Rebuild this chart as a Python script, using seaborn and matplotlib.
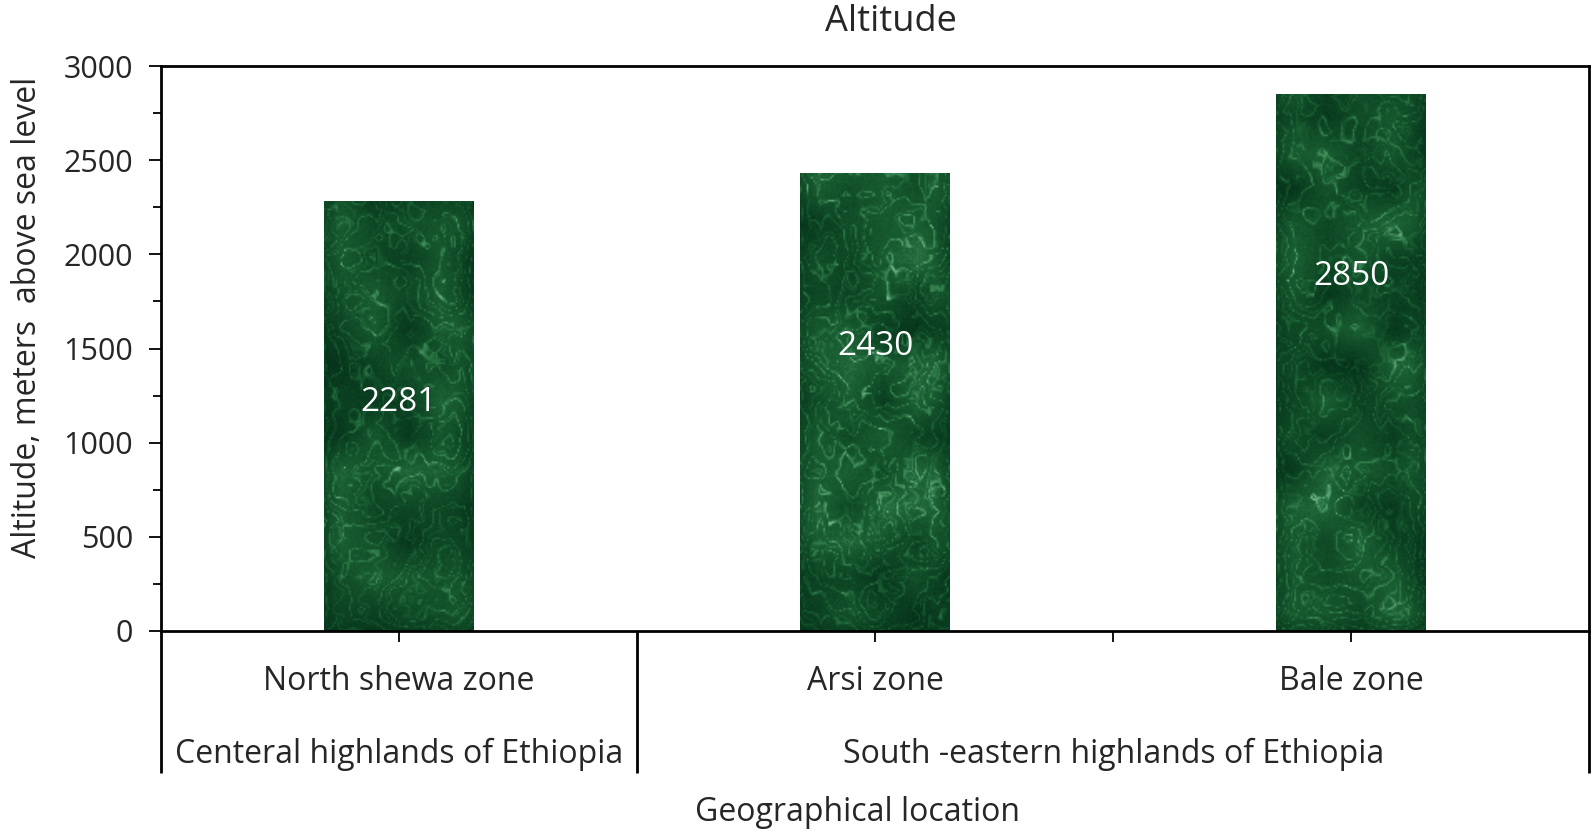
import numpy as np
import pandas as pd
import matplotlib
matplotlib.use("Agg")
import matplotlib.pyplot as plt
import seaborn as sns
from matplotlib.colors import LinearSegmentedColormap
from matplotlib.ticker import MultipleLocator

zones = ["North shewa zone", "Arsi zone", "Bale zone"]
altitude = [2281, 2430, 2850]
regions = ["Centeral highlands of Ethiopia", "South -eastern highlands of Ethiopia"]
region_size = [1, 2]  # number of zones in each region
label_y = [1215, 1510, 1880]  # where the value labels sit inside bars

sns.set_theme(style="white")
plt.rcParams["font.family"] = ["Open Sans", "DejaVu Sans"]

df = pd.DataFrame({"zone": zones, "altitude": altitude})

fig = plt.figure(figsize=(15.94, 8.32), dpi=100)
ax = fig.add_axes([0.101, 0.2416, 0.896, 0.679])

sns.barplot(data=df, x="zone", y="altitude", color="#1a5a30", width=0.314, ax=ax)


def smooth_noise(rng, h, w, scale):
    small = rng.random((h // scale + 3, w // scale + 3))
    big = np.kron(small, np.ones((scale, scale)))[:h, :w]
    k = max(scale, 1)
    if k > 1:
        kern = np.ones(k) / k
        big = np.apply_along_axis(lambda r: np.convolve(r, kern, mode="same"), 1, big)
        big = np.apply_along_axis(lambda c: np.convolve(c, kern, mode="same"), 0, big)
    return big


# green marble-like texture for the bar fill
def marble(h, w, seed):
    rng = np.random.default_rng(seed)
    field = (smooth_noise(rng, h, w, 30) + 0.5 * smooth_noise(rng, h, w, 12)
             + 0.25 * smooth_noise(rng, h, w, 5))
    yy, xx = np.mgrid[0:h, 0:w]
    veins = np.exp(-(np.sin(field * 14 + yy / 40.0)) ** 2 / 0.04)
    veins2 = np.exp(-(np.sin(field * 9 + xx / 15.0)) ** 2 / 0.02)
    base = smooth_noise(rng, h, w, 20)
    speck = rng.random((h, w))
    out = 0.6 * base + 0.35 * veins + 0.2 * veins2 + 0.12 * speck
    out = (out - out.min()) / (out.max() - out.min())
    return out


cmap = LinearSegmentedColormap.from_list(
    "marble", ["#05301a", "#0e4825", "#1b6034", "#3d8a58", "#8cc8a0"])

for i, patch in enumerate(ax.patches):
    x0 = patch.get_x()
    w = patch.get_width()
    tex = marble(320, 90, seed=11 + i)
    im = ax.imshow(tex, cmap=cmap, extent=[x0, x0 + w, 0, 3000],
                   aspect="auto", zorder=patch.get_zorder() + 0.1, origin="lower",
                   interpolation="bilinear")
    im.set_clip_path(patch)
    patch.set_edgecolor("none")
    ax.text(i, label_y[i], str(altitude[i]), color="white", fontsize=24,
            ha="center", va="center", zorder=5)

ax.set_xlim(-0.5, len(zones) - 0.5)
ax.set_ylim(0, 3000)
ax.yaxis.set_major_locator(MultipleLocator(500))
ax.yaxis.set_minor_locator(MultipleLocator(250))
ax.tick_params(axis="y", which="major", direction="out", length=9, width=1.3,
               labelsize=22, color="black", left=True, pad=11)
ax.tick_params(axis="y", which="minor", direction="out", length=6, width=1.3,
               color="black", left=True)

# ticks at the bar centres and between Arsi and Bale
ax.set_xticks([0, 1, 1.5, 2])
ax.set_xticklabels([])
ax.tick_params(axis="x", direction="out", length=8, width=1.3, color="black", bottom=True)
ax.set_xlabel("")

for s in ax.spines.values():
    s.set_visible(True)
    s.set_color("black")
    s.set_linewidth(2)

# two level category axis
trans = ax.get_xaxis_transform()
for i, z in enumerate(zones):
    ax.text(i, -0.09, z, transform=trans, ha="center", va="center", fontsize=23)

bounds = [-0.5]
for n in region_size:
    bounds.append(bounds[-1] + n)
for j, r in enumerate(regions):
    mid = (bounds[j] + bounds[j + 1]) / 2
    ax.text(mid, -0.218, r, transform=trans, ha="center", va="center", fontsize=23)
for b in bounds:
    ax.plot([b, b], [0, -0.251], transform=trans, color="black", lw=2,
            clip_on=False, solid_capstyle="butt")

ax.text(0.488, -0.322, "Geographical location", transform=ax.transAxes,
        ha="center", va="center", fontsize=23)
ax.set_ylabel("Altitude, meters  above sea level", fontsize=23, labelpad=14)
ax.yaxis.label.set_y(0.556)
fig.text(0.5587, 0.9736, "Altitude", ha="center", va="center", fontsize=26)

fig.savefig("out.png", dpi=100)
